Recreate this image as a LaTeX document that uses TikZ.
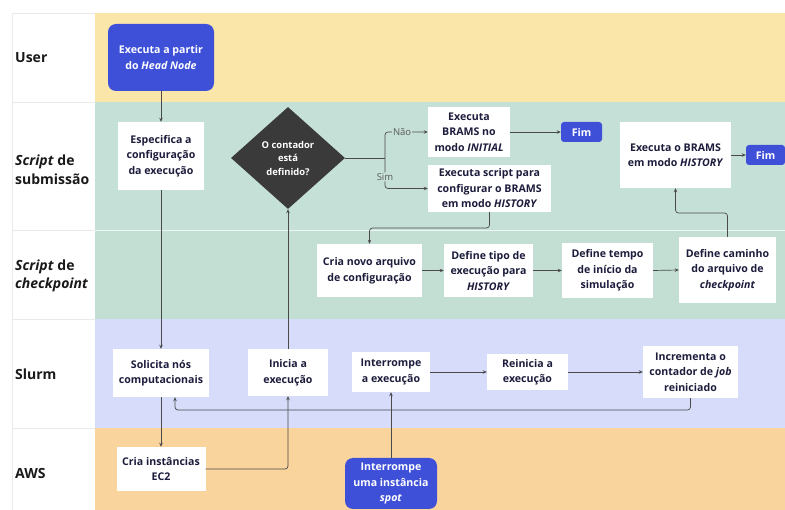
\documentclass[tikz,border=0pt]{standalone}
\usepackage{fontspec}
\setmainfont{Open Sans}
\usetikzlibrary{arrows.meta,shapes.geometric,calc}
\definecolor{userc}{HTML}{FAE6A8}
\definecolor{subc}{HTML}{C5E0D6}
\definecolor{ckc}{HTML}{C3DFD4}
\definecolor{slurmc}{HTML}{D6DCFA}
\definecolor{awsc}{HTML}{FAD49D}
\definecolor{bluec}{HTML}{3F50D8}
\definecolor{darkc}{HTML}{3A3A3A}
\definecolor{txtc}{HTML}{1C1C3C}
\definecolor{linec}{HTML}{4A4A4A}
\definecolor{sepc}{HTML}{EAEAEA}
\tikzset{
  box/.style={fill=white, text=txtc, font=\bfseries\fontsize{10.6}{15.5}\selectfont, align=center, inner sep=1pt},
  term/.style={fill=bluec, text=white, rounded corners=8pt, font=\bfseries\fontsize{10.6}{15.5}\selectfont, align=center, inner sep=1pt},
  fimbox/.style={fill=bluec, text=white, rounded corners=3pt, font=\bfseries\fontsize{10.6}{12}\selectfont, inner sep=1pt},
  dec/.style={diamond, fill=darkc, text=white, font=\bfseries\fontsize{9.4}{13.5}\selectfont, align=center, inner sep=0pt, aspect=1.1},
  lane/.style={anchor=west, text=black!90, font=\bfseries\fontsize{14}{18.5}\selectfont, align=left, inner sep=0pt},
  conn/.style={draw=linec, line width=0.7pt, rounded corners=3pt, -{Stealth[length=4pt,width=3.5pt]}},
  plain/.style={draw=linec, line width=0.7pt, rounded corners=3pt},
  lbl/.style={text=black!65, font=\fontsize{9.5}{11}\selectfont, inner sep=1pt}
}
\begin{document}
\begin{tikzpicture}[x=1pt,y=-1pt]
\useasboundingbox (0,0) rectangle (785,510);
\fill[white] (0,0) rectangle (785,510);
% lanes
\fill[userc] (95,13) rectangle (785,102);
\fill[subc] (95,102) rectangle (785,230);
\fill[ckc] (95,230) rectangle (785,319);
\fill[slurmc] (95,319) rectangle (785,428);
\fill[awsc] (95,428) rectangle (785,510);
\draw[white!70!subc, line width=0.6pt] (95,230) -- (785,230);
% label column
\draw[sepc, line width=0.6pt] (12,510) -- (12,13) -- (95,13);
\foreach \yy in {102,230,319,428} \draw[sepc, line width=0.6pt] (12,\yy) -- (95,\yy);
\node[lane] (lu) at (15,58) {User};
\node[lane] (ls) at (15,170) {\textit{Script} de\\submissão};
\node[lane] (lc) at (15,276) {\textit{Script} de\\\textit{checkpoint}};
\node[lane] (lsl) at (15,374) {Slurm};
\node[lane] (la) at (15,474) {AWS};
% nodes
\node[term, minimum width=106, minimum height=67] (head) at (161,57.5) {Executa a partir\\do \textit{Head Node}};
\node[box, minimum width=86, minimum height=68] (esp) at (161,156) {Especifica a\\configuração\\da execução};
\node[dec, minimum width=114, minimum height=102] (dia) at (288,158) {O contador\\está\\definido?};
\node[box, minimum width=82, minimum height=50] (init) at (469,132) {Executa\\BRAMS no\\modo \textit{INITIAL}};
\node[fimbox, minimum width=41, minimum height=20] (fim1) at (581.5,132) {Fim};
\node[box, minimum width=123, minimum height=47] (hist) at (489.5,188.5) {Executa script para\\configurar o BRAMS\\em modo \textit{HISTORY}};
\node[box, minimum width=111, minimum height=66] (exeh) at (675.5,155) {Executa o BRAMS\\em modo \textit{HISTORY}};
\node[fimbox, minimum width=39, minimum height=20] (fim2) at (765.5,155) {Fim};
\node[box, minimum width=105, minimum height=53] (cria) at (369.5,270.5) {Cria novo arquivo\\de configuração};
\node[box, minimum width=89, minimum height=53] (tipo) at (488.5,270.5) {Define tipo de\\execução para\\\textit{HISTORY}};
\node[box, minimum width=91, minimum height=55] (tempo) at (607.5,270.5) {Define tempo\\de início da\\simulação};
\node[box, minimum width=97, minimum height=66] (cam) at (727.5,270) {Define caminho\\do arquivo de\\\textit{checkpoint}};
\node[box, minimum width=96, minimum height=48] (sol) at (161,373) {Solicita nós\\computacionais};
\node[box, minimum width=80, minimum height=47] (ini) at (288,372.5) {Inicia a\\execução};
\node[box, minimum width=78, minimum height=40] (intr) at (391,372) {Interrompe\\a execução};
\node[box, minimum width=81, minimum height=36] (rein) at (527.5,372) {Reinicia a\\execução};
\node[box, minimum width=95, minimum height=52] (incr) at (690.5,372) {Incrementa o\\contador de \textit{job}\\reiniciado};
\node[box, minimum width=89, minimum height=44] (ec2) at (161,469) {Cria instâncias\\EC2};
\node[term, minimum width=92, minimum height=51] (spot) at (391,483.5) {Interrompe\\uma instância\\\textit{spot}};
\coordinate (split) at (385,158);
% connectors
\draw[conn] (head.south) -- (esp.north);
\draw[conn] (esp.south) -- (sol.north);
\draw[conn] (sol.south) -- (ec2.north);
\draw[conn] (ec2.east) -| (ini.south);
\draw[conn] (ini.north) -- (dia.south);
\draw[plain] (dia.east) -- (split);
\draw[conn] (split) |- node[lbl, pos=0.7, fill=subc] {Não} (init.west);
\draw[conn] (split) |- node[lbl, pos=0.31, fill=subc] {Sim} (hist.west);
\draw[conn] (init.east) -- (fim1.west);
\draw[conn] (hist.south) -- (hist.south |- 0,228) -| (cria.north);
\draw[conn] (cria.east) -- (tipo.west);
\draw[conn] (tipo.east) -- (tempo.west);
\draw[conn] (tempo.east) -- (cam.west);
\draw[conn] (cam.north) -- (cam.north |- 0,213) -| (exeh.south);
\draw[conn] (exeh.east) -- (fim2.west);
\draw[conn] (intr.east) -- (rein.west);
\draw[conn] (rein.east) -- (incr.west);
\draw[conn] (incr.south) -- (incr.south |- 0,410) -| ([xshift=14pt]sol.south);
\draw[conn] (spot.north) -- (intr.south);
\end{tikzpicture}
\end{document}
